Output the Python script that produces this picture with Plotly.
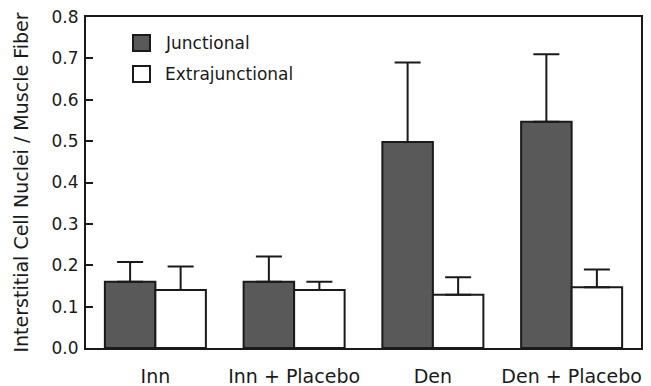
import plotly.graph_objects as go

categories = ["Inn", "Inn + Placebo", "Den", "Den + Placebo"]
junctional = [0.16, 0.16, 0.498, 0.547]
junctional_err = [0.048, 0.061, 0.192, 0.163]
extrajunctional = [0.14, 0.14, 0.129, 0.147]
extrajunctional_err = [0.057, 0.02, 0.042, 0.043]
y_ticks = [0.0, 0.1, 0.2, 0.3, 0.4, 0.5, 0.6, 0.7, 0.8]
legend_labels = ["Junctional", "Extrajunctional"]

FONT = "DejaVu Sans, Liberation Sans, Arial, sans-serif"
INK = "#1a1a1a"
DARK = "#595959"

L, R, T, B, W, H = 86, 10, 17, 38, 651, 386
PW, PH = W - L - R, H - T - B

def px(x):
    return (x - L) / PW

def py(y):
    return (H - B - y) / PH

fig = go.Figure()
fig.add_trace(go.Bar(
    x=categories, y=junctional, name=legend_labels[0],
    marker=dict(color=DARK, line=dict(color=INK, width=2)),
    error_y=dict(type="data", array=junctional_err, arrayminus=[0]*4, symmetric=False,
                 color=INK, thickness=2, width=13),
))
fig.add_trace(go.Bar(
    x=categories, y=extrajunctional, name=legend_labels[1],
    marker=dict(color="white", line=dict(color=INK, width=2)),
    error_y=dict(type="data", array=extrajunctional_err, arrayminus=[0]*4, symmetric=False,
                 color=INK, thickness=2, width=13),
))

# manual legend
fills = [DARK, "white"]
rows = [(35, 51, 43), (66, 82, 74)]
for (y0, y1, yc), fill, label in zip(rows, fills, legend_labels):
    fig.add_shape(type="rect", xref="paper", yref="paper",
                  x0=px(133), x1=px(150), y0=py(y1), y1=py(y0),
                  fillcolor=fill, line=dict(color=INK, width=2))
    fig.add_annotation(xref="paper", yref="paper", x=px(163), y=py(yc),
                       xanchor="left", yanchor="middle", text=label, showarrow=False,
                       font=dict(size=17, color=INK, family=FONT))

fig.update_layout(
    width=W, height=H,
    margin=dict(l=L, r=R, t=T, b=B, autoexpand=False),
    paper_bgcolor="white", plot_bgcolor="white",
    barmode="group", bargap=0.272, bargroupgap=0,
    font=dict(family=FONT, size=17, color=INK),
    showlegend=False,
)
fig.update_xaxes(
    showline=True, linecolor=INK, linewidth=2, mirror=True, automargin=False,
    ticks="", tickfont=dict(size=19), ticklabelstandoff=10,
)
fig.update_yaxes(
    range=[0, 0.8], tickvals=y_ticks, ticktext=[f"{v:.1f}" for v in y_ticks],
    showline=True, linecolor=INK, linewidth=2, mirror=True, automargin=False,
    ticks="inside", ticklen=7, tickwidth=2, tickcolor=INK,
    showgrid=False, zeroline=False, tickfont=dict(size=17),
    ticklabelstandoff=2,
    title=dict(text="Interstitial Cell Nuclei / Muscle Fiber", font=dict(size=19), standoff=18),
)

fig.write_html(
    "out.html",
    config={"displayModeBar": False},
    post_script="document.body.style.margin='0px';document.body.style.overflow='hidden';",
)
